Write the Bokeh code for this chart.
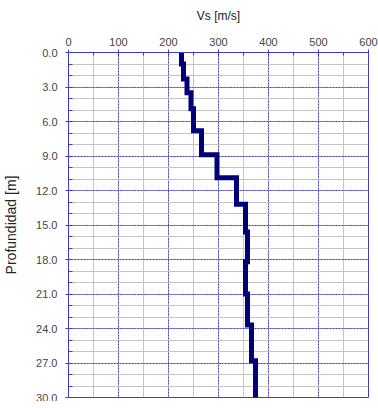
from bokeh.plotting import figure
from bokeh.models import Range1d, SingleIntervalTicker, PrintfTickFormatter, ColumnDataSource
from bokeh.embed import file_html
from bokeh.resources import INLINE

# Layered shear-wave velocity profile
layer_top = [0.0, 1.0, 2.3, 3.5, 4.9, 6.8, 8.9, 10.9, 13.2, 15.6, 18.2, 21.0, 23.7, 26.8]
layer_bottom = [1.0, 2.3, 3.5, 4.9, 6.8, 8.9, 10.9, 13.2, 15.6, 18.2, 21.0, 23.7, 26.8, 30.0]
vs = [226, 230, 237, 245, 250, 266, 297, 336, 354, 358, 354, 358, 366, 374]

x_ticks_interval = 100
y_ticks_interval = 3

xs, ys = [], []
for t, b, v in zip(layer_top, layer_bottom, vs):
    xs += [v, v]
    ys += [t, b]
src = ColumnDataSource(dict(x=xs, y=ys))

BLUE = "#3c3cc8"
FONT = "Liberation Sans"

p = figure(
    output_backend="svg", toolbar_location=None,
    frame_width=300, frame_height=345,
    min_border_left=60, min_border_right=10, min_border_top=52, min_border_bottom=4,
    x_range=Range1d(0, 600), y_range=Range1d(30, 0),
    x_axis_location="above",
    background_fill_color="white", border_fill_color="white",
)
p.outline_line_color = BLUE
p.outline_line_width = 1

xt = SingleIntervalTicker(interval=x_ticks_interval, num_minor_ticks=2)
yt = SingleIntervalTicker(interval=y_ticks_interval, num_minor_ticks=3)

xa = p.xaxis[0]
xa.ticker = xt
xa.axis_label = "Vs [m/s]"
xa.axis_label_text_font = FONT
xa.axis_label_text_font_size = "12px"
xa.axis_label_text_font_style = "normal"
xa.axis_label_text_color = "#222222"
xa.axis_label_standoff = 12
xa.major_label_text_font = FONT
xa.major_label_text_font_size = "11px"
xa.major_label_text_color = "#444444"
xa.major_label_standoff = 4
xa.axis_line_color = BLUE
xa.major_tick_line_color = BLUE
xa.minor_tick_line_color = BLUE
xa.major_tick_in = 3
xa.major_tick_out = 3
xa.minor_tick_in = 3
xa.minor_tick_out = 0

ya = p.yaxis[0]
ya.ticker = yt
ya.formatter = PrintfTickFormatter(format="%.1f")
ya.axis_label = "Profundidad [m]"
ya.axis_label_text_font = FONT
ya.axis_label_text_font_size = "14px"
ya.axis_label_text_font_style = "normal"
ya.axis_label_text_color = "#222222"
ya.axis_label_standoff = 14
ya.major_label_text_font = FONT
ya.major_label_text_font_size = "11px"
ya.major_label_text_color = "#444444"
ya.major_label_standoff = 8
ya.axis_line_color = BLUE
ya.major_tick_line_color = BLUE
ya.minor_tick_line_color = BLUE
ya.major_tick_in = 3
ya.major_tick_out = 3
ya.minor_tick_in = 4
ya.minor_tick_out = 0

for g, t in ((p.xgrid[0], xt), (p.ygrid[0], yt)):
    g.ticker = t
    g.grid_line_color = "#4a4ad0"
    g.grid_line_dash = "2 1"
    g.grid_line_width = 1
    g.minor_grid_line_color = "#c4c4c4"
    g.minor_grid_line_width = 1

p.line("x", "y", source=src, line_color="#000078", line_width=5, line_join="miter")

open("out.html", "w").write(file_html(p, INLINE))
